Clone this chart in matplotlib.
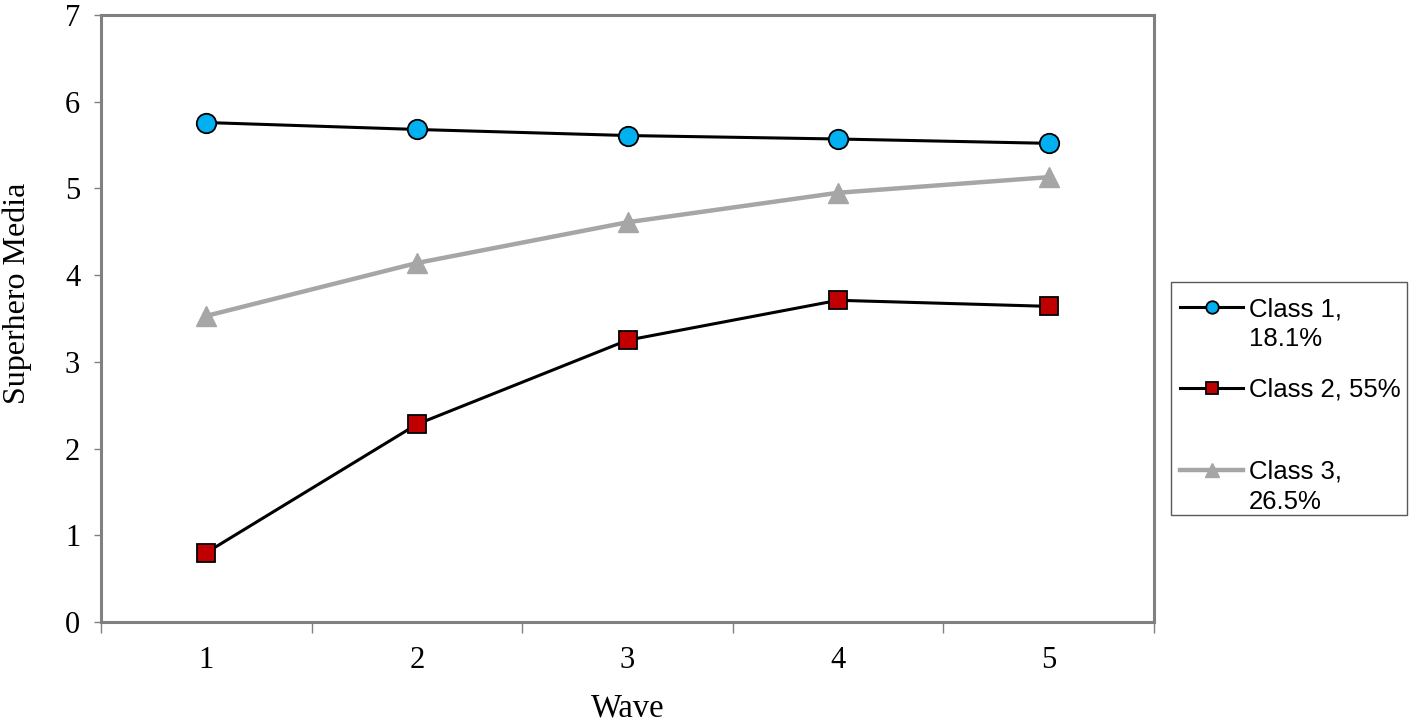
import matplotlib
matplotlib.use("Agg")
import matplotlib.pyplot as plt
from matplotlib.lines import Line2D
from matplotlib.patches import Rectangle
from matplotlib.ticker import FixedLocator, NullFormatter, FixedFormatter

waves = [1, 2, 3, 4, 5]
class1 = [5.76, 5.68, 5.61, 5.57, 5.52]
class2 = [0.80, 2.28, 3.25, 3.71, 3.64]
class3 = [3.53, 4.14, 4.61, 4.95, 5.13]
labels = ["Class 1,\n18.1%", "Class 2, 55%", "Class 3,\n26.5%"]
yticks = [0, 1, 2, 3, 4, 5, 6, 7]

W, H = 1414, 724
fig = plt.figure(figsize=(W / 100, H / 100), dpi=100)
ax = fig.add_axes([101 / W, 1 - 622 / H, (1154 - 101) / W, (622 - 15) / H])

styles = [
    dict(color="black", lw=2.2, marker="o", markerfacecolor="#00B0F0",
         markeredgecolor="black", markeredgewidth=1.3),
    dict(color="black", lw=2.2, marker="s", markerfacecolor="#C00000",
         markeredgecolor="black", markeredgewidth=1.3),
    dict(color="#A6A6A6", lw=3.2, marker="^", markerfacecolor="#A6A6A6",
         markeredgecolor="#A6A6A6", markeredgewidth=1.0),
]
sizes = [14, 13.5, 14]
leg_sizes = [9, 9, 9.5]

for vals, st, ms, z in zip([class1, class2, class3], styles, sizes, [3, 3, 2]):
    ax.plot(waves, vals, markersize=ms, zorder=z, **st)

ax.set_xlim(0.5, 5.5)
ax.set_ylim(0, 7)

for s in ax.spines.values():
    s.set_color("#808080")
    s.set_linewidth(2.2)

ax.set_yticks(yticks)
ax.set_yticklabels([str(v) for v in yticks], fontfamily="Liberation Serif", fontsize=22)
ax.tick_params(axis="y", direction="out", length=5, width=1, color="#808080", pad=10)

ax.xaxis.set_major_locator(FixedLocator([0.5, 1.5, 2.5, 3.5, 4.5, 5.5]))
ax.xaxis.set_major_formatter(NullFormatter())
ax.xaxis.set_minor_locator(FixedLocator(waves))
ax.xaxis.set_minor_formatter(FixedFormatter([str(w) for w in waves]))
ax.tick_params(axis="x", which="major", direction="out", length=8, width=1, color="#808080")
ax.tick_params(axis="x", which="minor", length=0, pad=17)
for t in ax.xaxis.get_minorticklabels():
    t.set_fontfamily("Liberation Serif")
    t.set_fontsize(22)

ax.set_ylabel("Superhero Media", fontfamily="Liberation Serif", fontsize=23)
ax.yaxis.set_label_coords(-0.066, 0.542)
ax.set_xlabel("Wave", fontfamily="Liberation Serif", fontsize=23.5, labelpad=13)

# Legend drawn by hand (Excel-style layout: handle aligned with first text line)
def fx(px):
    return px / W

def fy(py):
    return 1 - py / H

fig.add_artist(Rectangle((fx(1171), fy(515)), fx(1407) - fx(1171), fy(282) - fy(515),
                         transform=fig.transFigure, facecolor="white",
                         edgecolor="#595959", lw=1.0, zorder=5))
rows_y = [307, 388, 470]
line_step = 30
for lab, st, ms, ry in zip(labels, styles, leg_sizes, rows_y):
    fig.add_artist(Line2D([fx(1180), fx(1243)], [fy(ry), fy(ry)], transform=fig.transFigure,
                          zorder=6, **{k: v for k, v in st.items()
                                       if not k.startswith("marker")}))
    fig.add_artist(Line2D([fx(1211.5)], [fy(ry)], transform=fig.transFigure, markersize=ms,
                          linestyle="none", zorder=7,
                          **{k: v for k, v in st.items() if k.startswith("marker")}))
    for i, part in enumerate(lab.split("\n")):
        fig.text(fx(1249), fy(ry + 9 + i * line_step), part, ha="left", va="baseline",
                 family="Liberation Sans", fontsize=18.5, zorder=7,
                 transform=fig.transFigure)

fig.savefig("out.png", dpi=100, facecolor="white")
